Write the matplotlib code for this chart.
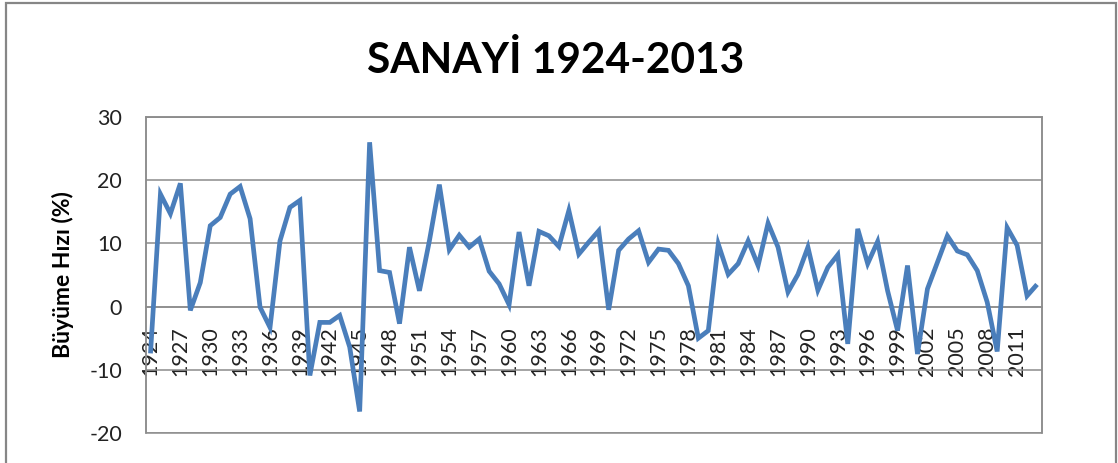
import matplotlib
matplotlib.use("Agg")
import matplotlib.pyplot as plt
from matplotlib.patches import Rectangle

years = list(range(1924, 2014))
growth = [
    -7.4, 17.8, 14.7, 19.5, -0.6, 3.8, 12.8, 14.1, 17.8, 19.0,
    13.9, -0.1, -3.3, 10.4, 15.7, 16.8, -10.9, -2.5, -2.5, -1.4,
    -6.4, -16.6, 26.0, 5.7, 5.4, -2.7, 9.4, 2.5, 10.4, 19.3,
    9.0, 11.3, 9.4, 10.7, 5.6, 3.6, 0.3, 11.8, 3.3, 11.9,
    11.2, 9.5, 15.2, 8.3, 10.2, 12.0, -0.5, 8.9, 10.7, 12.0,
    7.0, 9.1, 8.9, 6.8, 3.3, -5.0, -3.8, 9.9, 5.1, 6.8,
    10.4, 6.5, 13.2, 9.4, 2.3, 5.1, 9.4, 2.6, 6.2, 8.2,
    -5.9, 12.3, 6.8, 10.3, 2.5, -3.8, 6.5, -7.5, 2.8, 7.0,
    11.2, 8.8, 8.2, 5.7, 0.7, -7.1, 12.5, 9.7, 1.7, 3.5,
]
title = "SANAYİ 1924-2013"
ylabel = "Büyüme Hızı (%)"
yticks = [-20, -10, 0, 10, 20, 30]

plt.rcParams['font.family'] = ['Lato', 'DejaVu Sans']

W, H = 1118, 463
fig = plt.figure(figsize=(W / 100, H / 100), dpi=100)
fig.patch.set_facecolor('white')

# outer chart border
fig.add_artist(Rectangle((5.5 / W, -0.05), (1115.5 - 5.5) / W, 1 - 2.5 / H + 0.05,
                         transform=fig.transFigure, fill=False,
                         edgecolor='#868686', linewidth=1.6))

l, r, t, b = 145.5, 1042, 117, 433
ax = fig.add_axes([l / W, 1 - b / H, (r - l) / W, (b - t) / H])

x = list(range(len(years)))
ax.plot(x, growth, color='#4A7EBB', linewidth=3.4, solid_joinstyle='miter',
        solid_capstyle='butt', zorder=3)

ax.set_xlim(-0.5, len(years) - 0.5)
ax.set_ylim(-20, 30)
ax.set_yticks(yticks)
ax.set_yticklabels([str(v) for v in yticks], fontsize=15.5, color='#222222')
ax.yaxis.grid(True, color='#8c8c8c', linewidth=1.1)
ax.set_axisbelow(True)
ax.tick_params(axis='y', length=0, pad=17)

# category axis crosses at 0
for s in ['top', 'left', 'right']:
    ax.spines[s].set_color('#8c8c8c')
    ax.spines[s].set_linewidth(1.1)
ax.spines['bottom'].set_position(('data', 0))
ax.spines['bottom'].set_color('#8c8c8c')
ax.spines['bottom'].set_linewidth(1.1)
ax.add_patch(Rectangle((0, 0), 1, 1, transform=ax.transAxes, fill=False,
                       edgecolor='#8c8c8c', linewidth=1.1, clip_on=False, zorder=1))

tick_pos = x[::3]
ax.set_xticks(tick_pos)
ax.set_xticklabels([str(years[i]) for i in tick_pos], rotation=90,
                   fontsize=15.5, color='#222222')
ax.tick_params(axis='x', length=0, pad=14)

fig.text(555.5 / W, 1 - 73 / H, title, fontsize=30.5, fontweight='bold',
         ha='center', va='baseline', color='black')
fig.text(62.5 / W, 1 - 275 / H, ylabel, fontsize=16.5, fontweight='bold',
         rotation=90, ha='center', va='center', color='black')

fig.savefig('out.png', dpi=100, facecolor='white')
